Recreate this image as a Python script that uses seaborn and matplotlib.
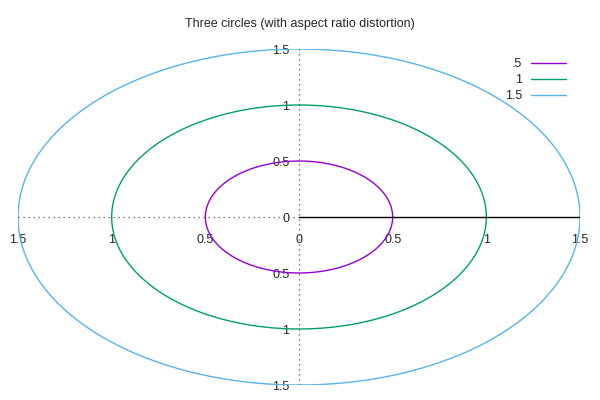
import numpy as np
import pandas as pd
import matplotlib
matplotlib.use("Agg")
import matplotlib.pyplot as plt
from matplotlib.ticker import FuncFormatter
import seaborn as sns

# --- data ---
radii = [0.5, 1.0, 1.5]
labels = [".5", "1", "1.5"]
colors = ["#9400D3", "#009E73", "#56B4E9"]
ticks = [-1.5, -1, -0.5, 0, 0.5, 1, 1.5]

theta = np.linspace(0, 2 * np.pi, 361)
frames = []
for r, lab in zip(radii, labels):
    frames.append(pd.DataFrame({"x": r * np.cos(theta), "y": r * np.sin(theta),
                                "idx": np.arange(len(theta)), "circle": lab}))
df = pd.concat(frames, ignore_index=True)

sns.set_style("white")
plt.rcParams["font.family"] = ["Liberation Sans", "DejaVu Sans"]

fig = plt.figure(figsize=(6, 4), dpi=100)
ax = fig.add_axes([18 / 600, 15 / 400, 562 / 600, 336 / 400])

sns.lineplot(data=df, x="x", y="y", hue="circle", sort=False, estimator=None,
             units="circle", palette=dict(zip(labels, colors)), linewidth=1, ax=ax)

ax.set_xlim(ticks[0], ticks[-1])
ax.set_ylim(ticks[0], ticks[-1])

# axes through origin
ax.axhline(0, xmax=0.5, color="#555555", lw=0.9, ls=(0, (1, 3)))
ax.axvline(0, color="#555555", lw=0.9, ls=(0, (1, 3)))
ax.axhline(0, xmin=0.5, color="black", lw=1)

for s in ax.spines.values():
    s.set_visible(False)
ax.spines["bottom"].set_position("zero")
ax.spines["left"].set_position("zero")

fmt = FuncFormatter(lambda v, p: f"{abs(v):g}")
ax.set_xticks(ticks)
ax.set_yticks(ticks)
ax.xaxis.set_major_formatter(fmt)
ax.yaxis.set_major_formatter(fmt)
ax.tick_params(axis="x", length=0, pad=12, labelsize=9)
ax.tick_params(axis="y", length=0, pad=7, labelsize=9)
ax.set_xlabel("")
ax.set_ylabel("")

fig.suptitle("Three circles (with aspect ratio distortion)", y=0.955, fontsize=9)

ax.legend(loc="upper right", bbox_to_anchor=(0.984, 0.988), frameon=False,
          markerfirst=False, handlelength=2.8, fontsize=9, labelspacing=0.33,
          handletextpad=0.7, borderaxespad=0)

fig.savefig("out.png", dpi=100)
